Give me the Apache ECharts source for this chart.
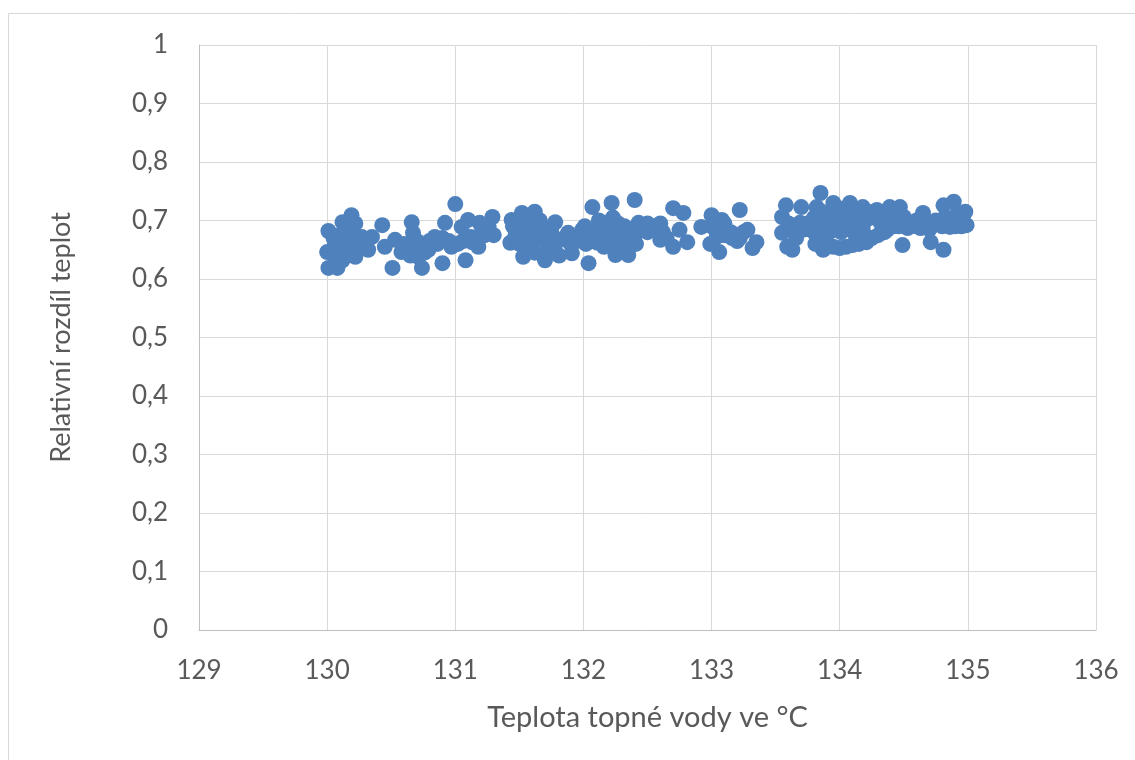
<!DOCTYPE html>
<html>
<head>
<meta charset="utf-8">
<script src="https://cdn.jsdelivr.net/npm/echarts@6/dist/echarts.min.js"></script>
<style>html,body{margin:0;padding:0;background:#fff}#c{width:1135px;height:760px}</style>
</head>
<body>
<div id="c"></div>
<script>
// Teplota topné vody (°C) and relativní rozdíl teplot
const tempC = [
130.01,130.0,130.01,130.08,130.12,130.19,130.14,130.16,130.06,130.12,130.22,130.27,130.35,130.32,130.43,130.45,130.51,130.53,130.58,130.66,130.67,130.69,130.71,130.74,130.79,130.84,130.90,130.92,130.97,131.0,131.05,131.08,131.10,131.13,131.19,131.29,131.21,131.18,
130.05,130.06,130.1,130.1,130.16,130.15,130.2,130.2,130.22,130.25,130.6,130.65,130.7,130.76,130.8,130.86,130.9,130.95,131.02,131.06,131.12,131.23,131.26,131.3,
131.44,131.52,131.43,131.49,131.53,131.62,131.61,131.68,131.70,131.78,131.76,131.88,131.91,131.99,132.04,132.07,132.15,132.22,132.25,132.35,132.40,132.19,132.33,132.43,132.11,132.52,132.60,132.70,132.78,132.70,132.75,132.81,
131.45,131.47,131.5,131.5,131.51,131.55,131.56,131.57,131.6,131.6,131.62,131.65,131.66,131.7,131.72,131.75,131.8,131.81,131.85,131.9,131.95,132.0,132.01,132.02,132.05,132.06,132.1,132.09,132.12,132.15,132.16,132.2,132.21,132.22,132.23,132.25,132.26,132.27,132.3,132.3,132.31,132.32,132.35,132.36,132.4,132.41,132.45,132.5,132.5,132.55,132.6,132.62,132.65,
132.92,133.00,133.08,133.04,133.06,133.22,133.22,133.28,133.35,133.32,
133.0,132.99,133.05,133.1,133.1,133.15,133.16,133.2,133.21,133.25,
133.55,133.58,133.70,133.55,133.59,133.63,133.71,133.66,133.85,133.82,133.69,133.79,133.82,133.87,133.95,133.98,134.00,134.08,134.10,134.10,134.18,134.18,134.21,134.29,134.32,134.37,134.39,134.47,134.50,134.49,134.53,134.65,134.63,134.71,134.73,134.81,134.81,134.89,134.92,134.98,134.99,134.86,
133.6,133.61,133.65,133.75,133.76,133.8,133.8,133.81,133.85,133.86,133.85,133.9,133.9,133.91,133.92,133.95,133.96,133.95,133.97,134.0,134.01,134.02,134.0,134.05,134.05,134.06,134.04,134.1,134.11,134.12,134.15,134.15,134.16,134.14,134.2,134.2,134.22,134.25,134.25,134.3,134.3,134.35,134.35,134.4,134.42,134.45,134.46,134.55,134.6,134.6,134.7,134.7,134.75,134.8,134.82,134.85,134.87,134.9,134.91,134.95,134.96
];
const relDiff = [
0.682,0.646,0.619,0.619,0.697,0.709,0.679,0.655,0.663,0.632,0.638,0.672,0.672,0.650,0.692,0.655,0.619,0.667,0.646,0.697,0.679,0.655,0.638,0.619,0.650,0.672,0.627,0.696,0.655,0.728,0.689,0.632,0.701,0.663,0.696,0.706,0.684,0.655,
0.67,0.64,0.65,0.675,0.69,0.64,0.665,0.68,0.695,0.655,0.66,0.64,0.665,0.645,0.665,0.66,0.67,0.665,0.66,0.665,0.672,0.675,0.69,0.675,
0.701,0.713,0.662,0.679,0.638,0.715,0.672,0.689,0.632,0.697,0.655,0.679,0.644,0.684,0.627,0.723,0.696,0.730,0.641,0.641,0.735,0.672,0.679,0.696,0.662,0.689,0.667,0.721,0.713,0.655,0.684,0.663,
0.69,0.675,0.7,0.66,0.685,0.68,0.65,0.695,0.66,0.69,0.645,0.675,0.7,0.665,0.645,0.68,0.665,0.64,0.67,0.66,0.665,0.675,0.69,0.66,0.67,0.68,0.685,0.665,0.7,0.675,0.655,0.69,0.665,0.68,0.705,0.675,0.66,0.695,0.68,0.665,0.65,0.69,0.665,0.685,0.675,0.66,0.685,0.695,0.68,0.69,0.695,0.68,0.67,
0.689,0.709,0.701,0.672,0.646,0.718,0.670,0.684,0.663,0.653,
0.69,0.66,0.68,0.695,0.675,0.68,0.67,0.665,0.675,0.68,
0.706,0.726,0.723,0.679,0.655,0.650,0.684,0.670,0.747,0.723,0.696,0.696,0.663,0.650,0.730,0.697,0.653,0.730,0.696,0.658,0.723,0.684,0.663,0.718,0.696,0.684,0.723,0.723,0.706,0.658,0.687,0.713,0.687,0.663,0.692,0.650,0.726,0.732,0.701,0.715,0.692,0.689,
0.695,0.69,0.685,0.695,0.685,0.705,0.68,0.66,0.69,0.715,0.67,0.7,0.655,0.71,0.68,0.655,0.69,0.705,0.715,0.7,0.68,0.72,0.69,0.655,0.7,0.715,0.685,0.705,0.68,0.71,0.66,0.7,0.71,0.69,0.665,0.7,0.715,0.67,0.705,0.675,0.71,0.7,0.68,0.715,0.69,0.71,0.69,0.69,0.69,0.7,0.695,0.685,0.7,0.69,0.705,0.695,0.7,0.69,0.71,0.69,0.705
];
const xTitle = 'Teplota topné vody ve °C';
const yTitle = 'Relativní rozdíl teplot';

const points = tempC.map((t, i) => [t, relDiff[i]]);
const FONT = 'Lato, "Open Sans", sans-serif';
const chart = echarts.init(document.getElementById('c'), null, {renderer: 'canvas'});
chart.setOption({
  animation: false,
  backgroundColor: '#fff',
  graphic: [{
    type: 'rect', shape: {x: 8.5, y: 13.5, width: 1200, height: 800},
    style: {fill: 'none', stroke: '#d9d9d9', lineWidth: 1}, silent: true, z: -10
  }],
  grid: {left: 199, right: 39, top: 45, bottom: 130, containLabel: false},
  xAxis: {
    type: 'value', min: 129, max: 136, interval: 1,
    name: xTitle, nameLocation: 'middle', nameGap: 73,
    nameTextStyle: {fontFamily: FONT, fontSize: 29, color: '#595959'},
    axisLine: {show: true, lineStyle: {color: '#bfbfbf', width: 1}},
    axisTick: {show: false},
    axisLabel: {fontFamily: FONT, fontSize: 26, color: '#595959', margin: 28},
    splitLine: {show: true, lineStyle: {color: '#d9d9d9', width: 1}}
  },
  yAxis: {
    type: 'value', min: 0, max: 1, interval: 0.1,
    name: yTitle, nameLocation: 'middle', nameGap: 124, nameRotate: 90,
    nameTextStyle: {fontFamily: FONT, fontSize: 27, color: '#595959'},
    axisLine: {show: true, lineStyle: {color: '#bfbfbf', width: 1}},
    axisTick: {show: false},
    axisLabel: {fontFamily: FONT, fontSize: 26, color: '#595959', margin: 31,
      formatter: v => String(Math.round(v * 10) / 10).replace('.', ',')},
    splitLine: {show: true, lineStyle: {color: '#d9d9d9', width: 1}}
  },
  series: [{
    type: 'scatter', data: points, symbol: 'circle', symbolSize: 16,
    itemStyle: {color: '#4f81bd', opacity: 1}
  }]
});
</script>
</body>
</html>
